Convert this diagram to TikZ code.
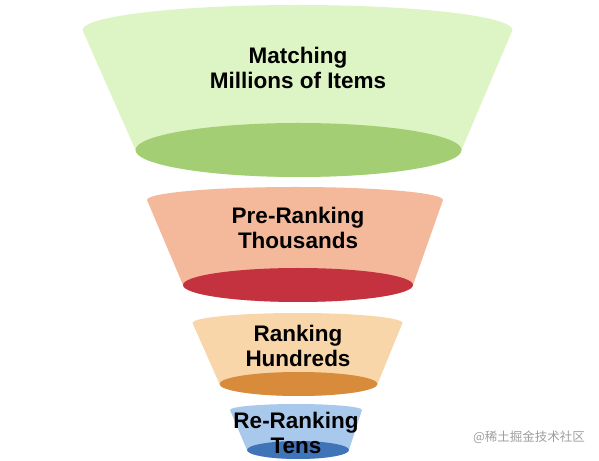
\documentclass[tikz,border=0pt]{standalone}
\usepackage{fontspec}
\setmainfont{Liberation Sans}
\newfontfamily\cjk{Noto Sans CJK SC}
\definecolor{gTop}{HTML}{DDF4C4}
\definecolor{gBot}{HTML}{A4CE74}
\definecolor{oTop}{HTML}{F4B99B}
\definecolor{oBot}{HTML}{C5323F}
\definecolor{pTop}{HTML}{F8D6A9}
\definecolor{pBot}{HTML}{D98B3C}
\definecolor{bTop}{HTML}{A9C9EC}
\definecolor{bBot}{HTML}{3F74B8}
\tikzset{
  lbl/.style={anchor=north, align=center, inner sep=0pt,
    font=\fontsize{22.5}{25}\selectfont\bfseries, text=black},
  wmark/.style={inner sep=0pt, font=\cjk\fontsize{12.5}{14}\selectfont, text=black!38}
}
% #1 cx top, #2 y top, #3 rx top, #4 ry top, #5 cx bot, #6 y bot, #7 rx bot, #8 ry bot, #9 colours
\newcommand{\funnelstage}[9]{%
  \fill[#9Top] ({#1-#3},#2) arc[start angle=180,end angle=0,x radius=#3,y radius=#4]
    -- ({#5+#7},#6) arc[start angle=0,end angle=-180,x radius=#7,y radius=#8] -- cycle;
  \fill[#9Bot] (#5,#6) ellipse[x radius=#7,y radius=#8];
}
\begin{document}
\begin{tikzpicture}[x=1pt,y=1pt]
\useasboundingbox (0,0) rectangle (599,460);
\funnelstage{297.5}{430}{215}{25}{298.5}{310}{163}{27}{g}
\funnelstage{295}{260}{148}{13}{298}{175}{115}{17}{o}
\funnelstage{297.5}{137}{105}{10}{298.5}{76}{79}{12}{p}
\funnelstage{296}{50}{66}{6}{298}{10}{51}{9}{b}
\node[lbl] (t1) at (298,413) {Matching\\Millions of Items};
\node[lbl] (t2) at (298,253) {Pre-Ranking\\Thousands};
\node[lbl] (t3) at (298,135) {Ranking\\Hundreds};
\node[lbl] (t4) at (296,48) {Re-Ranking\\Tens};
\node[wmark] (wm) at (529,23) {@稀土掘金技术社区};
\end{tikzpicture}
\end{document}
